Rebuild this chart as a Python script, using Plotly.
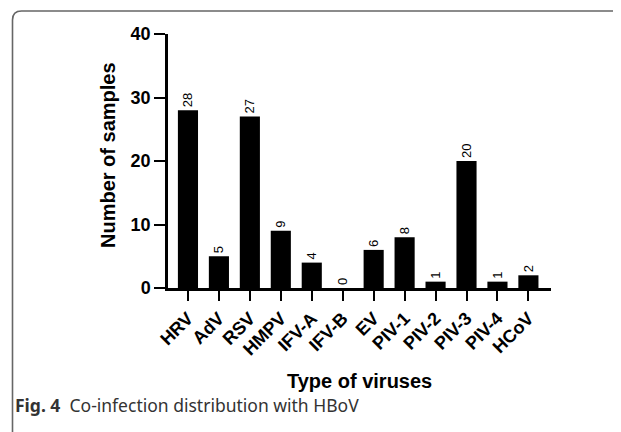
import plotly.graph_objects as go

categories = ["HRV", "AdV", "RSV", "HMPV", "IFV-A", "IFV-B", "EV", "PIV-1", "PIV-2", "PIV-3", "PIV-4", "HCoV"]
counts = [28, 5, 27, 9, 4, 0, 6, 8, 1, 20, 1, 2]
y_ticks = [0, 10, 20, 30, 40]

# the page body has an 8px margin, so the figure is drawn at (8, 8)
OFF = 8
W, H = 621 - OFF, 432 - OFF
# plot area in page pixels: x 168..551, y 34..288
L, R, T, B = 168 - OFF, 621 - 551, 34 - OFF, 432 - 288
PW, PH = W - L - R, H - T - B

def px(x):
    return (x - OFF - L) / PW

def py(y):
    return (H - B - (y - OFF)) / PH

fig = go.Figure()
fig.add_trace(go.Bar(
    x=categories, y=counts,
    marker=dict(color="black", line=dict(width=0)),
    texttemplate="%{y}", textposition="outside", textangle=-90,
    textfont=dict(family="Liberation Sans, Arial", size=13, color="black"),
    cliponaxis=False,
))

fig.update_layout(
    width=W, height=H,
    margin=dict(l=L, r=R, t=T, b=B, autoexpand=False),
    paper_bgcolor="white", plot_bgcolor="white",
    bargap=0.35, showlegend=False,
    font=dict(family="Liberation Sans, Arial", color="black"),
    xaxis=dict(
        range=[-0.645, 11.73], showline=True, linecolor="black", linewidth=2.5,
        ticks="outside", ticklen=10, tickwidth=2, tickcolor="black",
        tickangle=-45, tickfont=dict(size=18, family="Liberation Sans, Arial", weight="bold", color="black"),
        showgrid=False, zeroline=False, automargin=False,
    ),
    yaxis=dict(
        range=[0, 40], tickvals=y_ticks, showline=True, linecolor="black", linewidth=2.5,
        ticks="outside", ticklen=11, tickwidth=2, tickcolor="black",
        tickfont=dict(size=18, family="Liberation Sans, Arial", weight="bold", color="black"),
        showgrid=False, zeroline=False, automargin=False,
    ),
)

# frame
r = 9
x0, y0, x1, y1 = 12.5, 11, 640, 440
fig.add_shape(type="path", xref="paper", yref="paper",
              path=f"M {px(x0)} {py(y1)} L {px(x0)} {py(y0 + r)} Q {px(x0)} {py(y0)} {px(x0 + r)} {py(y0)} L {px(x1)} {py(y0)}",
              line=dict(color="#666666", width=1.6), layer="below")

fig.add_annotation(x=px(108), y=py(155), xref="paper", yref="paper", text="<b>Number of samples</b>",
                   textangle=-90, showarrow=False, font=dict(size=20, family="Liberation Sans, Arial", color="black"),
                   xanchor="center", yanchor="middle")
fig.add_annotation(x=0.5, y=py(381), xref="paper", yref="paper", text="<b>Type of viruses</b>",
                   showarrow=False, font=dict(size=20, family="Liberation Sans, Arial", color="black"),
                   xanchor="center", yanchor="middle")
fig.add_annotation(x=px(13), y=py(405), xref="paper", yref="paper",
                   text="<b>Fig. 4</b>  Co-infection distribution with HBoV",
                   showarrow=False, font=dict(size=17.5, family="Noto Sans", color="#333333"),
                   xanchor="left", yanchor="middle")

fig.write_html("out.html")
